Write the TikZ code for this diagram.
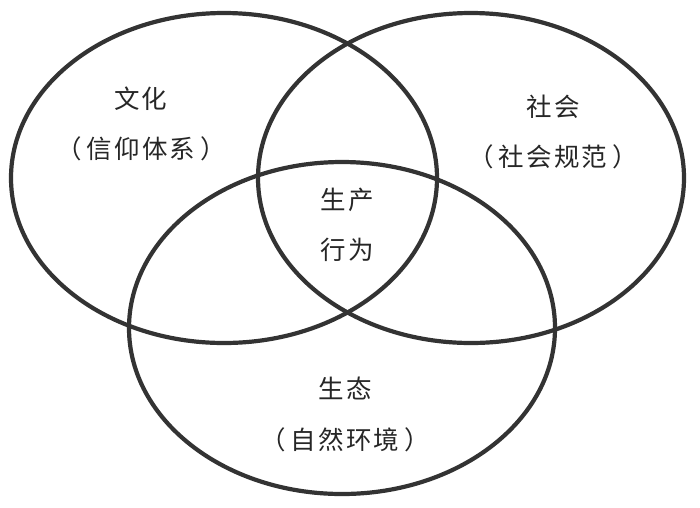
\documentclass[tikz,border=0pt]{standalone}
\usepackage{fontspec}
\newfontfamily\cjk[LetterSpace=8]{Noto Sans CJK SC}
\begin{document}
\begin{tikzpicture}[x=1pt,y=-1pt,
  ring/.style={draw=black!80,line width=4.2pt},
  lab/.style={font=\cjk\fontsize{25.5}{25.5}\selectfont,text=black!85,inner sep=0pt}]
\useasboundingbox (0,0) rectangle (700,507);
\draw[ring] (224,178) ellipse [x radius=213, y radius=165];
\draw[ring] (471,178) ellipse [x radius=213, y radius=165];
\draw[ring] (342,328) ellipse [x radius=213, y radius=166];
\node[lab] (c1) at (141,99) {文化};
\node[lab] (c2) at (141,149) {（\hspace{5pt}信仰体系\hspace{5pt}）};
\node[lab] (s1) at (553,107) {社会};
\node[lab] (s2) at (553,157) {（\hspace{5pt}社会规范\hspace{5pt}）};
\node[lab] (p1) at (347,200) {生产};
\node[lab] (p2) at (347,250) {行为};
\node[lab] (e1) at (345,388) {生态};
\node[lab] (e2) at (345,440) {（\hspace{5pt}自然环境\hspace{5pt}）};
\end{tikzpicture}
\end{document}
